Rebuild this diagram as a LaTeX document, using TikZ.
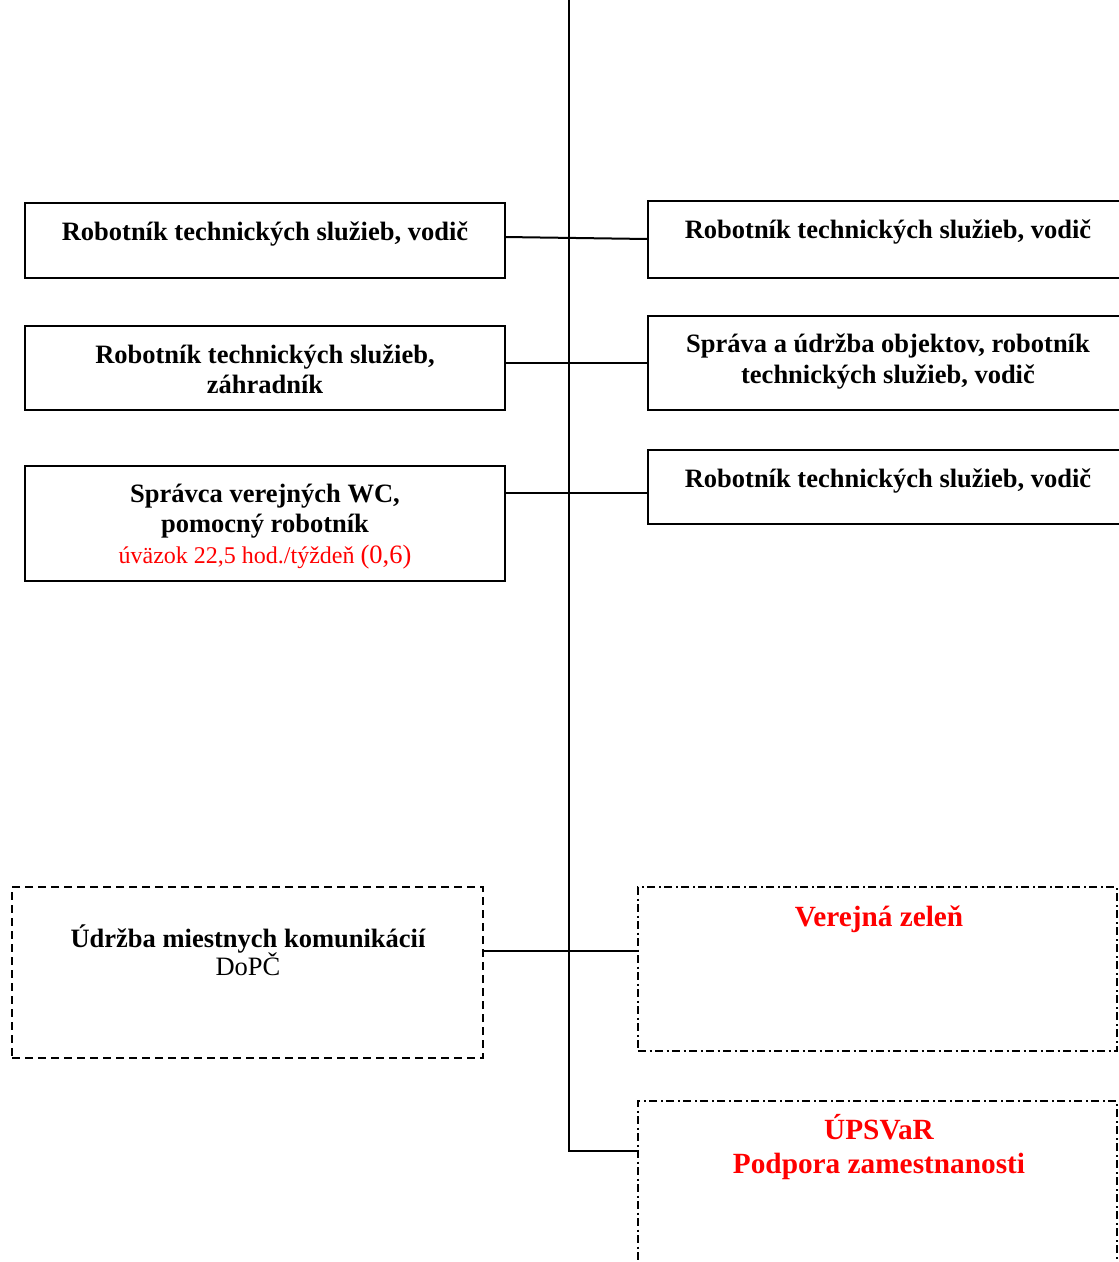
\documentclass[tikz,border=0pt]{standalone}
\usepackage{fontspec}
\setmainfont{Liberation Serif}
\definecolor{redtxt}{RGB}{255,0,0}
\tikzset{
  box/.style={draw, line width=2pt, rectangle, inner sep=0pt, outer sep=0pt, anchor=north west},
  dashbox/.style={box, dash pattern=on 8pt off 5pt},
  dashdotbox/.style={box, dash pattern=on 8pt off 3.5pt on 2pt off 3.5pt},
  conn/.style={line width=2pt},
  bt/.style={font=\fontsize{26.5}{30.5}\selectfont\bfseries, anchor=base, inner sep=0pt},
  rt/.style={font=\fontsize{26.5}{30.5}\selectfont, anchor=base, inner sep=0pt},
  redsmall/.style={font=\fontsize{24}{28}\selectfont, text=redtxt, anchor=base, inner sep=0pt},
  redbig/.style={font=\fontsize{29.3}{34}\selectfont\bfseries, text=redtxt, anchor=base, inner sep=0pt},
}
\begin{document}
\begin{tikzpicture}[x=1pt,y=-1pt]
\useasboundingbox (0,0) rectangle (1119,1262);
\clip (0,0) rectangle (1119,1262);

% left boxes
\node[box, minimum width=480pt, minimum height=75pt] (l1) at (25,203) {};
\node[box, minimum width=480pt, minimum height=84pt] (l2) at (25,326) {};
\node[box, minimum width=480pt, minimum height=115pt] (l3) at (25,466) {};
\node[dashbox, minimum width=471pt, minimum height=171pt] (d) at (12,887) {};

% right boxes
\node[box, minimum width=480pt, minimum height=77pt] (r1) at (648,201) {};
\node[box, minimum width=480pt, minimum height=94pt] (r2) at (648,316) {};
\node[box, minimum width=480pt, minimum height=74pt] (r3) at (648,450) {};
\node[dashdotbox, minimum width=479pt, minimum height=164pt] (vz) at (638,887) {};
\node[dashdotbox, minimum width=479pt, minimum height=200pt] (u) at (638,1101) {};

% texts
\node[bt] (l1a) at (265,240) {Robotník technických služieb, vodič};
\node[bt] (l2a) at (265,363) {Robotník technických služieb,};
\node[bt] (l2b) at (265,393) {záhradník};
\node[bt] (l3a) at (265,502) {Správca verejných WC,};
\node[bt] (l3b) at (265,532) {pomocný robotník};
\node[redsmall] (l3c) at (265,563) {úväzok 22,5 hod./týždeň {\fontsize{26.5}{30}\selectfont(0,6)}};
\node[bt] (da) at (248,947) {Údržba miestnych komunikácií};
\node[rt] (db) at (248,975) {DoPČ};

\node[bt] (r1a) at (888,238) {Robotník technických služieb, vodič};
\node[bt] (r2a) at (888,352) {Správa a údržba objektov, robotník};
\node[bt] (r2b) at (888,383) {technických služieb, vodič};
\node[bt] (r3a) at (888,487) {Robotník technických služieb, vodič};
\node[redbig] (vza) at (879,926) {Verejná zeleň};
\node[redbig] (ua) at (879,1139) {ÚPSVaR};
\node[redbig] (ub) at (879,1173) {Podpora zamestnanosti};

% connectors
\coordinate (top) at (569,0);
\coordinate (bot) at (569,1151);
\coordinate (r3in) at ([yshift=-6pt]r3.west);
\coordinate (vzin) at ([yshift=18pt]vz.west);
\draw[conn] (top) -- (bot) -- (u.west |- bot);
\draw[conn] ([yshift=3.5pt]l1.east) -- ([yshift=0.5pt]r1.west);
\draw[conn] (l2.east |- r2.west) -- (r2.west);
\draw[conn] (l3.east |- r3in) -- (r3in);
\draw[conn] (d.east |- vzin) -- (vzin);
\end{tikzpicture}
\end{document}
